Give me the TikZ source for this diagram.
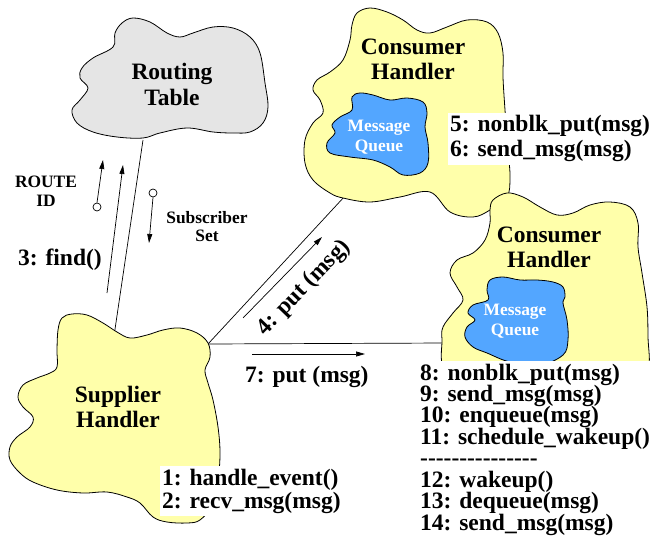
\documentclass[tikz,border=0pt]{standalone}
\usepackage{fontspec}
\setmainfont{Liberation Serif}
\usetikzlibrary{arrows.meta}

\definecolor{handlerfill}{RGB}{255,255,170}
\definecolor{tablefill}{RGB}{229,229,229}
\definecolor{queuefill}{RGB}{83,166,255}

% stacked lines, the box baseline being the first line's baseline
\newcommand\blockC[2]{\vtop{\baselineskip=#1\relax\lineskiplimit=-30pt\relax\halign{\hfil##\hfil\cr#2\crcr}}}
\newcommand\blockL[2]{\vtop{\baselineskip=#1\relax\lineskiplimit=-30pt\relax\halign{##\hfil\cr#2\crcr}}}
\newcommand\hy{\hbox{-}}

\tikzset{
  big/.style={font=\bfseries\fontsize{23.5}{25}\selectfont, inner sep=0pt},
  small/.style={font=\bfseries\fontsize{17.4}{19}\selectfont, inner sep=0pt},
  cloud/.style={draw=black, line width=0.8pt},
  link/.style={draw=black, line width=0.7pt},
  flow/.style={draw=black, line width=0.7pt, -{Triangle[length=9pt,width=5pt]}},
  callbox/.style={big, fill=white, inner xsep=2pt, inner ysep=3pt},
  port/.style={circle, draw, fill=white, minimum size=8pt, inner sep=0pt, line width=0.7pt},
}

\begin{document}
\begin{tikzpicture}[x=1pt, y=-1pt]
\useasboundingbox (0,0) rectangle (650,540);

% connector end points
\coordinate (rtFoot) at (143,140);
\coordinate (supTop) at (114,336);
\coordinate (supNE) at (208,344);
\coordinate (c1Foot) at (345,196);
\coordinate (c2West) at (447,343);

% connectors between the handlers and the table
\draw[link] (rtFoot) -- (supTop);
\draw[link] (supNE) -- (c1Foot);
\draw[link] (supNE) -- (c2West);

% Routing Table
\draw[cloud, fill=tablefill] plot[smooth cycle, tension=0.6] coordinates {
  (115,33) (122,23) (133,18) (150,22) (167,33) (180,37) (193,33) (213,27)
  (233,28) (250,37) (260,53) (265,83) (268,107) (263,123) (250,132) (233,133)
  (213,132) (187,128) (160,133) (143,138) (117,137) (93,132) (77,123) (72,110)
  (80,100) (88,88) (80,78) (82,68) (93,58) (113,47)};

% Supplier Handler
\draw[cloud, fill=handlerfill] plot[smooth cycle, tension=0.6] coordinates {
  (62,318) (72,314) (87,315) (103,323) (117,332) (130,338) (147,335) (163,330)
  (180,328) (197,333) (208,343) (210,357) (205,370) (208,383) (213,400) (218,427)
  (220,453) (218,480) (212,505) (200,520) (187,523) (167,522) (153,517) (140,503)
  (127,497) (107,492) (83,493) (57,490) (33,482) (20,473) (10,460) (10,447)
  (17,437) (30,427) (33,417) (23,407) (18,397) (23,385) (37,378) (50,373)
  (57,367) (57,350) (58,330)};

% upper Consumer Handler
\draw[cloud, fill=handlerfill] plot[smooth cycle, tension=0.6] coordinates {
  (352,25) (357,13) (370,8) (387,12) (403,20) (417,30) (430,33) (447,27)
  (467,20) (487,22) (498,33) (503,53) (503,77) (505,110) (508,150) (510,177)
  (507,197) (490,210) (473,217) (450,212) (430,192) (400,197) (370,202) (343,198)
  (330,193) (313,180) (305,163) (305,140) (313,123) (323,113) (320,100) (313,90)
  (317,80) (330,72) (343,60) (350,40)};

% lower Consumer Handler
\draw[cloud, fill=handlerfill] plot[smooth cycle, tension=0.6] coordinates {
  (490,210) (493,200) (507,193) (523,197) (540,207) (557,215) (573,213) (590,205)
  (610,202) (630,207) (638,223) (638,247) (642,273) (647,307) (648,337) (648,370)
  (630,385) (560,385) (480,385) (445,370) (442,340) (443,327) (453,313) (463,300)
  (457,287) (450,273) (457,260) (473,253) (485,240) (490,223)};

% message queues
\draw[cloud, fill=queuefill] plot[smooth cycle, tension=0.6] coordinates {
  (352,97) (360,93) (373,95) (390,100) (407,98) (423,102) (427,113) (425,127)
  (428,143) (428,163) (420,173) (403,175) (390,167) (373,160) (350,157) (330,153)
  (327,143) (335,133) (332,125) (340,117) (352,110)};
\draw[cloud, fill=queuefill] plot[smooth cycle, tension=0.6] coordinates {
  (490,280) (503,277) (520,280) (537,280) (553,282) (563,287) (565,297) (563,303)
  (567,320) (568,340) (563,355) (540,365) (510,362) (487,353) (473,347) (465,337)
  (467,327) (475,320) (468,313) (473,305) (488,300) (487,290)};

% titles
\node[big, anchor=base] (rtText) at (172,80) {\blockC{26pt}{Routing\cr Table}};
\node[big, anchor=base] (supText) at (118,402) {\blockC{25pt}{Supplier\cr Handler}};
\node[big, anchor=base] (c1Text) at (413,55) {\blockC{25pt}{Consumer\cr Handler}};
\node[big, anchor=base] (c2Text) at (549,242) {\blockC{25pt}{Consumer\cr Handler}};
\node[small, anchor=base, text=white] (q1Text) at (379,132) {\blockC{20pt}{Message\cr Queue}};
\node[small, anchor=base, text=white] (q2Text) at (515,315) {\blockC{20pt}{Message\cr Queue}};

% find() request and its data flows
\coordinate (findA) at (107,293);
\coordinate (findB) at (123,165);
\draw[flow] (findA) -- (findB);
\node[big, anchor=base west] (findText) at (18,265) {3: find()};

\node[port] (ridPort) at (97,207) {};
\coordinate (ridTip) at (103,160);
\draw[flow] (ridPort.north) -- (ridTip);
\node[small, anchor=base] (ridText) at (46,188) {\blockC{19pt}{ROUTE\cr ID}};

\node[port] (subPort) at (153,193) {};
\coordinate (subTip) at (149,243);
\draw[flow] (subPort.south) -- (subTip);
\node[small, anchor=base] (subText) at (207,223) {\blockC{18pt}{Subscriber\cr Set}};

% put() calls to the consumers
\coordinate (put4A) at (243,318);
\coordinate (put4B) at (322,237);
\draw[flow] (put4A) -- (put4B);
\node[big, rotate=46] (put4Text) at (304,288) {4: put (msg)};

\coordinate (put7A) at (252,354);
\coordinate (put7B) at (365,354);
\draw[flow] (put7A) -- (put7B);
\node[big, anchor=base west] (put7Text) at (245,382) {7: put (msg)};

% call sequences
\node[callbox, anchor=base west] (calls56) at (448,132)
  {\blockL{25pt}{5: nonblk\_put(msg)\cr 6: send\_msg(msg)}};
\node[callbox, anchor=base west] (calls12) at (160,485)
  {\blockL{23.3pt}{1: handle\_event()\cr 2: recv\_msg(msg)}};
\node[callbox, anchor=base west] (calls814) at (418,380)
  {\blockL{21.45pt}{8: nonblk\_put(msg)\cr 9: send\_msg(msg)\cr 10: enqueue(msg)\cr
   11: schedule\_wakeup()\cr \hy\hy\hy\hy\hy\hy\hy\hy\hy\hy\hy\hy\hy\hy\hy\cr
   12: wakeup()\cr 13: dequeue(msg)\cr 14: send\_msg(msg)}};
\end{tikzpicture}
\end{document}
